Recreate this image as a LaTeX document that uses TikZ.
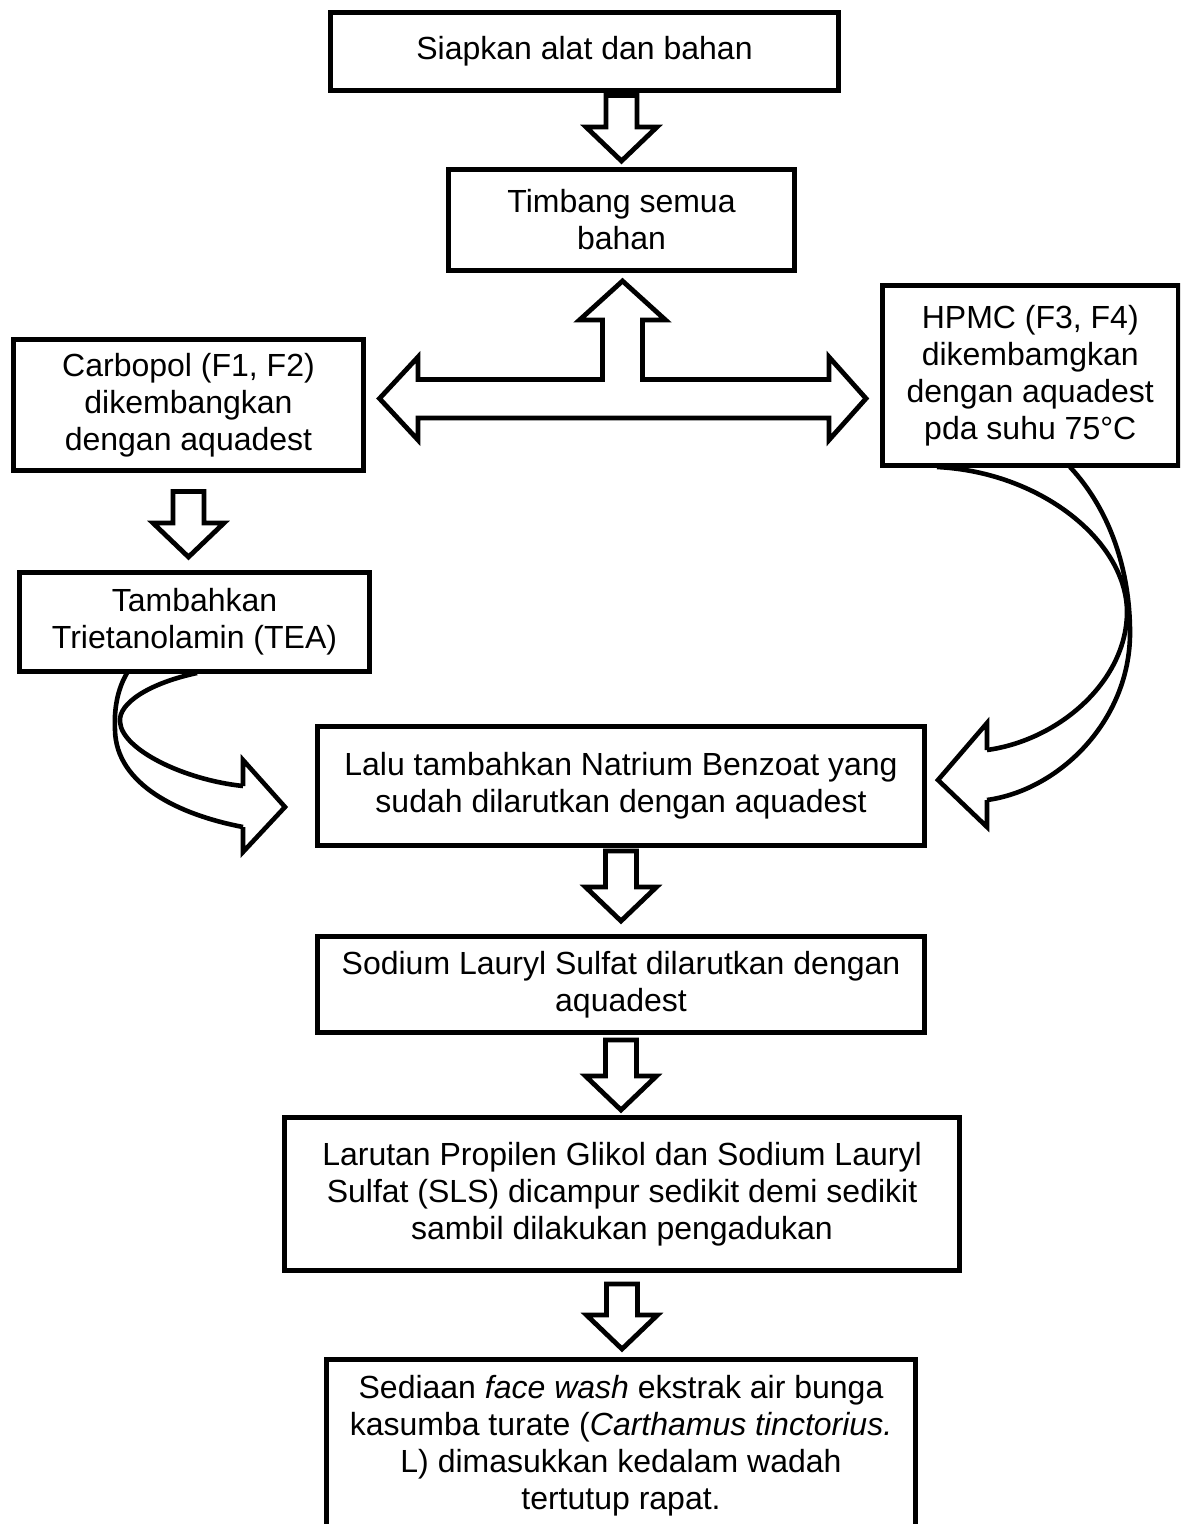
\documentclass[tikz,border=0pt]{standalone}
\usepackage{fontspec}
\setmainfont{Liberation Sans}
\usetikzlibrary{calc}
\tikzset{
  box/.style={draw, line width=2.5pt, align=center, inner sep=0pt, fill=white,
    font=\fontsize{16}{18.5}\selectfont},
  blk/.style={draw, line width=2.4pt, fill=white, line join=miter},
  crv/.style={draw, line width=2.3pt, line join=miter}
}
\newcommand\blockdown[2]{%
  \draw[blk] let \p1=#1, \p2=#2 in
    (\x2-7.75pt,\y1) -- (\x2-7.75pt,\y2+17pt) -- (\x2-17.75pt,\y2+17pt) --
    (\x2,\y2) -- (\x2+17.75pt,\y2+17pt) -- (\x2+7.75pt,\y2+17pt) --
    (\x2+7.75pt,\y1) -- cycle;}
\begin{document}
\begin{tikzpicture}[x=0.5pt,y=-0.5pt]
\useasboundingbox (0,0) rectangle (1180,1524);
\clip (0,0) rectangle (1180,1524);
\fill[white] (0,0) rectangle (1180,1524);

% boxes
\node[box, minimum width=254pt, minimum height=39pt] (b1) at (584.5,51.5) {Siapkan alat dan bahan};
\node[box, minimum width=173pt, minimum height=50.5pt] (b2) at (621.5,220) {Timbang semua\\bahan};
\node[box, minimum width=175pt, minimum height=65.5pt] (c) at (188.5,405) {Carbopol (F1, F2)\\dikembangkan\\dengan aquadest};
\node[box, minimum width=147.75pt, minimum height=90pt] (h) at (1030.25,375.5) {HPMC (F3, F4)\\dikembamgkan\\dengan aquadest\\pda suhu 75°C};
\node[box, minimum width=175pt, minimum height=49.5pt] (t) at (194.5,622) {Tambahkan\\Trietanolamin (TEA)};
\node[box, minimum width=303.5pt, minimum height=59.5pt] (l) at (621,786) {Lalu tambahkan Natrium Benzoat yang\\sudah dilarutkan dengan aquadest};
\node[box, minimum width=303.5pt, minimum height=48pt] (s) at (621,984.5) {Sodium Lauryl Sulfat dilarutkan dengan\\aquadest};
\node[box, minimum width=337.5pt, minimum height=76.5pt] (r) at (622,1194) {Larutan Propilen Glikol dan Sodium Lauryl\\Sulfat (SLS) dicampur sedikit demi sedikit\\sambil dilakukan pengadukan};
\node[box, minimum width=294.5pt, minimum height=86.25pt] (e) at (621,1445.75) {Sediaan \textit{face wash} ekstrak air bunga\\kasumba turate (\textit{Carthamus tinctorius.}\\L) dimasukkan kedalam wadah\\tertutup rapat.};

% straight block arrows
\blockdown{($(b1.south -| b2.north)+(0,2.5)$)}{($(b2.north)+(0,-6)$)}
\blockdown{($(c.south)+(0,18.5)$)}{($(c.south |- t.north)+(0,-13)$)}
\blockdown{($(l.south)+(0,3)$)}{($(l.south |- s.north)+(0,-13)$)}
\blockdown{($(s.south)+(0,5)$)}{($(s.south |- r.north)+(0,-5)$)}
\blockdown{($(r.south)+(0,11)$)}{($(r.south |- e.north)+(0,-8)$)}

% T-shaped block arrow between Timbang, Carbopol and HPMC
\draw[blk] (379.5,398.5) -- (418,357) -- (418,379.5) -- (602.5,379.5) -- (602.5,320)
  -- (579.5,320) -- (622.5,281) -- (665.5,320) -- (642.5,320) -- (642.5,379.5)
  -- (829,379.5) -- (829,357) -- (866,398.5) -- (829,440) -- (829,418)
  -- (418,418) -- (418,440) -- cycle;

% curved arrow from Tambahkan to Lalu
\coordinate (tl1) at (197,673);
\coordinate (tl2) at (127,673);
\draw[crv] (tl1) .. controls (150,683) and (118,703) .. (120,722)
  .. controls (122,750) and (185,780) .. (243,786);
\draw[crv] (tl2) .. controls (117,690) and (114,710) .. (115,730)
  .. controls (116,785) and (180,815) .. (243,827);
\draw[crv] (243,786) -- (243,760) -- (285,807) -- (243,852) -- (243,827);

% curved arrow from HPMC to Lalu
\coordinate (hl1) at (937,467);
\coordinate (hl2) at (1070,467);
\draw[crv] (hl1) .. controls (1040,472) and (1125,540) .. (1127,610)
  .. controls (1128,680) and (1060,740) .. (987,750);
\draw[crv] (hl2) .. controls (1110,510) and (1130,570) .. (1130,633)
  .. controls (1130,720) and (1060,790) .. (987,800);
\draw[crv] (987,750) -- (987,723) -- (938,780) -- (987,827) -- (987,800);
\end{tikzpicture}
\end{document}
